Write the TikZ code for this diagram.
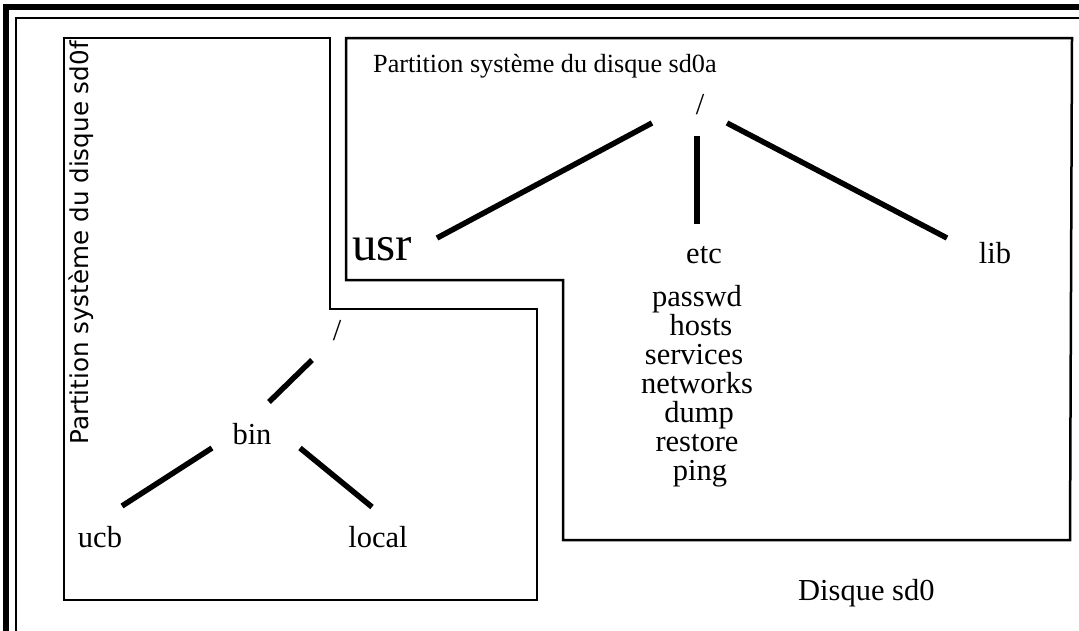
\documentclass[tikz,border=0pt]{standalone}
\usepackage{fontspec}
\setmainfont{Liberation Serif}
\newfontfamily\vsans{DejaVu Sans}
\begin{document}
\begin{tikzpicture}[x=1pt,y=-1pt,
  boxline/.style={line width=2.5pt,line join=miter},
  branch/.style={line width=5.5pt},
  lbl/.style={font=\fontsize{30.5}{29}\selectfont, inner sep=0pt, anchor=base},
  small/.style={font=\fontsize{26.2}{28}\selectfont, inner sep=0pt, anchor=base west},
  big/.style={font=\fontsize{49}{50}\selectfont, inner sep=0pt, anchor=base},
  vert/.style={font=\vsans\fontsize{24.6}{25}\selectfont, inner sep=0pt, anchor=base, rotate=90}
]
\useasboundingbox (0,0) rectangle (1079,630);
\fill[white] (0,0) rectangle (1079,630);
\begin{scope}
  \clip (0,0) rectangle (1079,630);
  \draw[line width=6pt] (6,6.5) rectangle (1200,800);
  \draw[line width=2pt] (16,18) rectangle (1190,790);
\end{scope}

% partitions
\draw[boxline] (64,38) -- (330,38) -- (330,309) -- (537,309) -- (537,600) -- (64,600) -- cycle;
\draw[boxline] (346,38) -- (1072,38) -- (1070,540) -- (563,540) -- (563,280) -- (346,280) -- cycle;

% titles
\node[vert] (tf) at (88,243) {Partition système du disque sd0f};
\node[small] (ta) at (373,72) {Partition système du disque sd0a};
\node[lbl, anchor=base west] (disk) at (798,600) {Disque sd0};

% top tree
\node[lbl] (root) at (700,114) {/};
\node[big] (usr) at (382,260) {usr};
\node[lbl] (etc) at (704,263) {etc};
\node[lbl] (lib) at (995,263) {lib};
\node[lbl] (f1) at (697,306) {passwd};
\node[lbl] (f2) at (701,335) {hosts};
\node[lbl] (f3) at (694,364) {services};
\node[lbl] (f4) at (697,393) {networks};
\node[lbl] (f5) at (699,422) {dump};
\node[lbl] (f6) at (697,451) {restore};
\node[lbl] (f7) at (700,480) {ping};

\coordinate (rA) at (652,123); \coordinate (uA) at (437,238);
\coordinate (rB) at (697,136); \coordinate (eB) at (697,224);
\coordinate (rC) at (727,123); \coordinate (lC) at (947,238);
\draw[branch] (rA) -- (uA);
\draw[branch] (rB) -- (eB);
\draw[branch] (rC) -- (lC);

% left tree
\node[lbl] (root2) at (337,340) {/};
\node[lbl] (bin) at (252,444) {bin};
\node[lbl] (ucb) at (100,547) {ucb};
\node[lbl] (local) at (378,547) {local};

\coordinate (sA) at (312,360); \coordinate (bA) at (269,402);
\coordinate (bB) at (212,448); \coordinate (cB) at (122,506);
\coordinate (bC) at (300,448); \coordinate (dC) at (372,507);
\draw[branch] (sA) -- (bA);
\draw[branch] (bB) -- (cB);
\draw[branch] (bC) -- (dC);
\end{tikzpicture}
\end{document}
